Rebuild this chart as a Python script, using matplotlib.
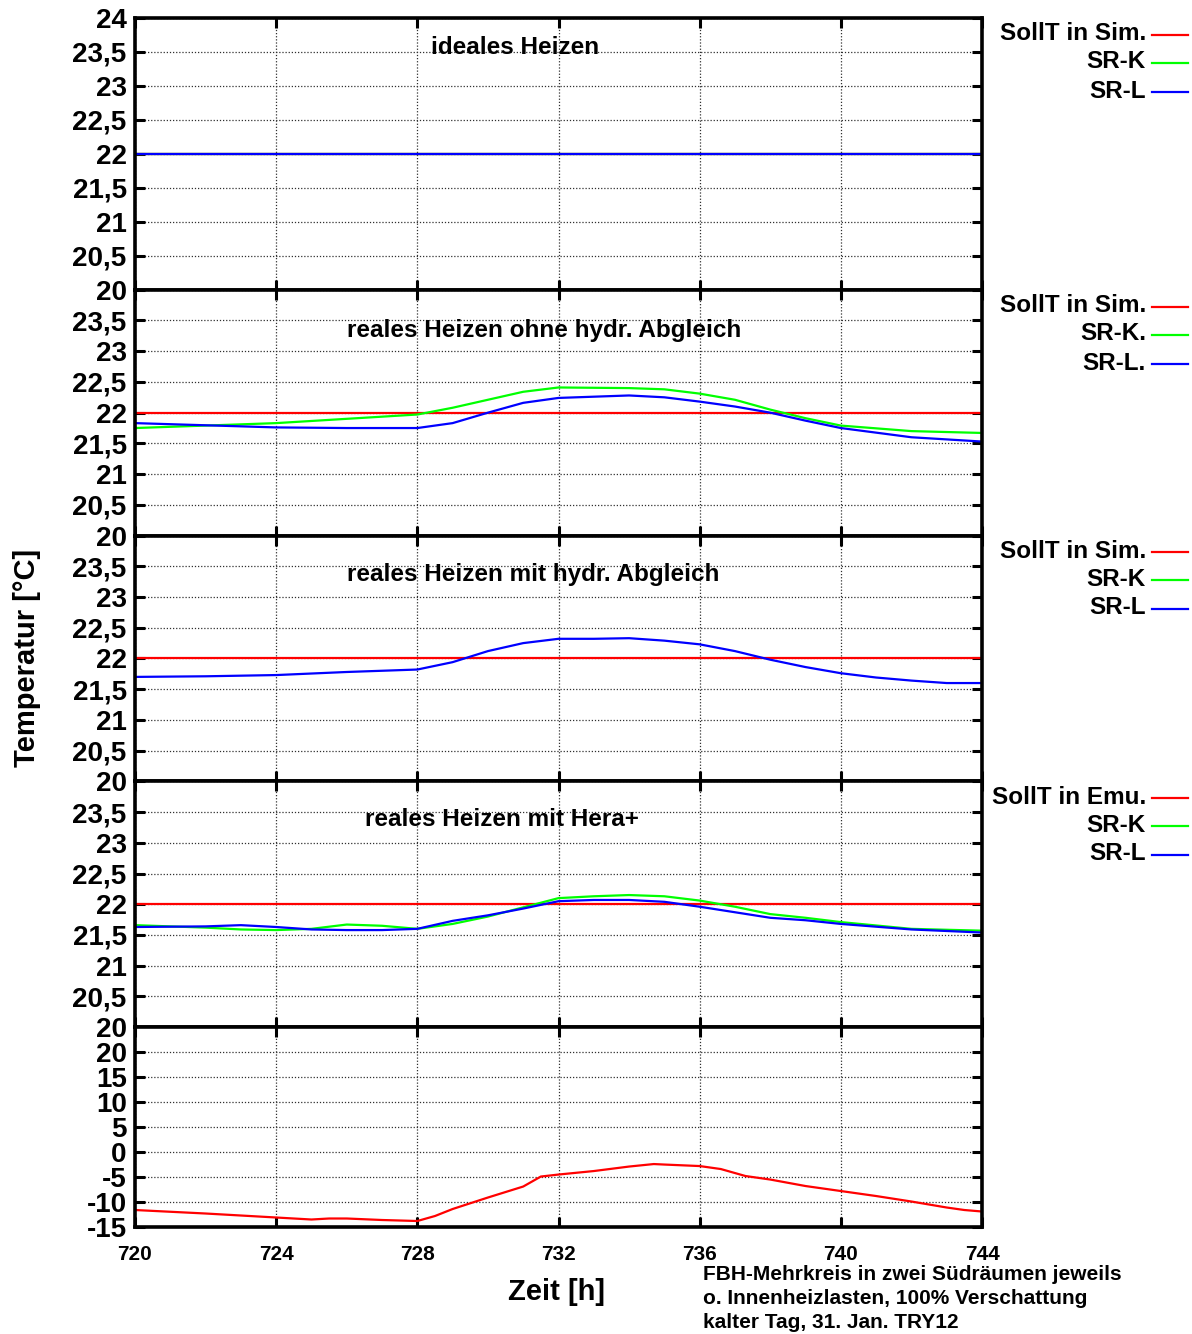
import numpy as np
import matplotlib.pyplot as plt
from matplotlib.lines import Line2D
from matplotlib.ticker import FuncFormatter

plt.rcParams['font.family'] = ['Liberation Sans', 'DejaVu Sans']

# ---- data ----
soll = 22.0

# panel 1: ideales Heizen (all curves at setpoint)
h1 = [720, 744]
sr_k_1 = [22.0, 22.0]
sr_l_1 = [22.0, 22.0]

# panel 2: reales Heizen ohne hydr. Abgleich
h2 = [720, 724, 726, 728, 729, 730, 731, 732, 734, 735, 736, 737, 738, 739, 740, 742, 744]
sr_k_2 = [21.75, 21.83, 21.90, 21.97, 22.08, 22.21, 22.34, 22.41, 22.40, 22.38, 22.31, 22.21, 22.05, 21.91, 21.79, 21.70, 21.67]
sr_l_2 = [21.83, 21.76, 21.75, 21.75, 21.83, 22.00, 22.16, 22.24, 22.28, 22.25, 22.18, 22.10, 22.00, 21.87, 21.75, 21.60, 21.53]

# panel 3: reales Heizen mit hydr. Abgleich
h3 = [720, 722, 724, 726, 727, 728, 729, 730, 731, 732, 733, 734, 735, 736, 737, 738, 739, 740, 741, 742, 743, 744]
sr_l_3 = [21.70, 21.71, 21.73, 21.78, 21.80, 21.82, 21.94, 22.12, 22.25, 22.32, 22.32, 22.33, 22.29, 22.23, 22.12, 21.98, 21.86, 21.76, 21.69, 21.64, 21.60, 21.60]

# panel 4: reales Heizen mit Hera+
h4 = [720, 722, 723, 724, 725, 726, 727, 728, 729, 730, 731, 732, 733, 734, 735, 736, 737, 738, 739, 740, 742, 744]
sr_k_4 = [21.66, 21.62, 21.59, 21.58, 21.60, 21.67, 21.65, 21.60, 21.68, 21.80, 21.95, 22.10, 22.13, 22.15, 22.13, 22.06, 21.96, 21.84, 21.78, 21.71, 21.60, 21.57]
sr_l_4 = [21.63, 21.64, 21.66, 21.63, 21.59, 21.58, 21.58, 21.60, 21.73, 21.82, 21.93, 22.05, 22.07, 22.07, 22.04, 21.96, 21.87, 21.78, 21.74, 21.68, 21.59, 21.54]

# panel 5: Aussentemperatur
h5 = [720, 722, 723, 724, 725, 725.5, 726, 727, 728, 728.5, 729, 730, 731, 731.5, 732, 733, 734, 734.7, 735, 736, 736.6, 737.3, 738, 739, 740, 741, 742, 743, 743.5, 744]
t_aussen = [-11.6, -12.3, -12.7, -13.1, -13.5, -13.3, -13.3, -13.6, -13.8, -12.8, -11.4, -9.1, -6.9, -4.9, -4.5, -3.8, -2.9, -2.4, -2.5, -2.8, -3.4, -4.8, -5.5, -6.8, -7.8, -8.8, -9.9, -11.1, -11.6, -11.9]

titles = ["ideales Heizen", "reales Heizen ohne hydr. Abgleich",
          "reales Heizen mit hydr. Abgleich", "reales Heizen mit Hera+"]
legends = [["SollT in Sim.", "SR-K", "SR-L"],
           ["SollT in Sim.", "SR-K.", "SR-L."],
           ["SollT in Sim.", "SR-K", "SR-L"],
           ["SollT in Emu.", "SR-K", "SR-L"]]
note_lines = ["FBH-Mehrkreis in zwei Südräumen jeweils",
              "o. Innenheizlasten, 100% Verschattung",
              "kalter Tag, 31. Jan. TRY12"]
x_ticks = [720, 724, 728, 732, 736, 740, 744]

W, H = 1192, 1334
fig = plt.figure(figsize=(W / 100, H / 100), dpi=100)
gs = fig.add_gridspec(5, 1, height_ratios=[272, 246, 246, 246, 200], hspace=0,
                      left=135 / W, right=982 / W, top=1 - 18 / H, bottom=1 - 1227 / H)
axes = [fig.add_subplot(gs[i]) for i in range(5)]

red, green, blue = '#ff0000', '#00ff00', '#0000ff'
lw = 1.6


def comma(v, pos=None):
    return ('%g' % v).replace('.', ',')


def comma_no_top(v, pos=None):
    if v > 23.9:
        return ''
    return comma(v)


for i, ax in enumerate(axes):
    ax.set_xlim(720, 744)
    ax.set_xticks(x_ticks)
    ax.grid(True, linestyle=(0, (1, 1.5)), color='#303030', linewidth=0.9)
    ax.tick_params(direction='in', length=7, width=2.2, top=True, right=True,
                   labelsize=20, pad=6)
    for s in ax.spines.values():
        s.set_linewidth(2.6)
    if i < 4:
        ax.set_ylim(20, 24)
        ax.set_yticks(np.arange(20, 24.01, 0.5))
        ax.yaxis.set_major_formatter(FuncFormatter(comma if i == 0 else comma_no_top))
        ax.tick_params(labelbottom=False)
    else:
        ax.set_ylim(-15, 25)
        ax.set_yticks(np.arange(-15, 20.1, 5))
        ax.yaxis.set_major_formatter(FuncFormatter(comma))
        ax.tick_params(axis='x', labelsize=15, pad=13)
    for lab in ax.get_yticklabels() + ax.get_xticklabels():
        lab.set_fontweight('bold')

ax = axes[0]
ax.plot(h1, [soll, soll], color=red, lw=lw)
ax.plot(h1, sr_k_1, color=green, lw=lw)
ax.plot(h1, sr_l_1, color=blue, lw=lw)

ax = axes[1]
ax.axhline(soll, color=red, lw=lw)
ax.plot(h2, sr_k_2, color=green, lw=lw)
ax.plot(h2, sr_l_2, color=blue, lw=lw)

ax = axes[2]
ax.axhline(soll, color=red, lw=lw)
ax.plot(h3, sr_l_3, color=blue, lw=lw)

ax = axes[3]
ax.axhline(soll, color=red, lw=lw)
ax.plot(h4, sr_k_4, color=green, lw=lw)
ax.plot(h4, sr_l_4, color=blue, lw=lw)

axes[4].plot(h5, t_aussen, color=red, lw=lw)

# panel titles (pixel positions from the reference)
panel_tops = [18, 290, 535, 781]
title_pos = [(515, 47, 'center'), (347, 331, 'left'), (347, 575, 'left'), (365, 820, 'left')]
for (x, y, ha), t in zip(title_pos, titles):
    fig.text(x / W, 1 - y / H, t, ha=ha, va='center', fontsize=17.5, fontweight='bold')

# legends at the right
for top, labs in zip(panel_tops, legends):
    for k, (lab, c) in enumerate(zip(labs, [red, green, blue])):
        y = top + [16, 44, 73][k]
        fig.text(1146 / W, 1 - y / H, lab, ha='right', va='center', fontsize=17.5, fontweight='bold')
        fig.add_artist(Line2D([1152 / W, 1188 / W], [1 - (y + 1) / H] * 2, color=c, lw=lw))

fig.text(27 / W, 1 - 658 / H, "Temperatur [°C]", rotation=90, ha='center', va='center',
         fontsize=21, fontweight='bold')
fig.text(557 / W, 1 - 1292 / H, "Zeit [h]", ha='center', va='center', fontsize=21, fontweight='bold')
for k, line in enumerate(note_lines):
    fig.text(703 / W, 1 - (1275 + 23.5 * k) / H, line, ha='left', va='center',
             fontsize=15, fontweight='bold')

fig.savefig('out.png', dpi=100)
